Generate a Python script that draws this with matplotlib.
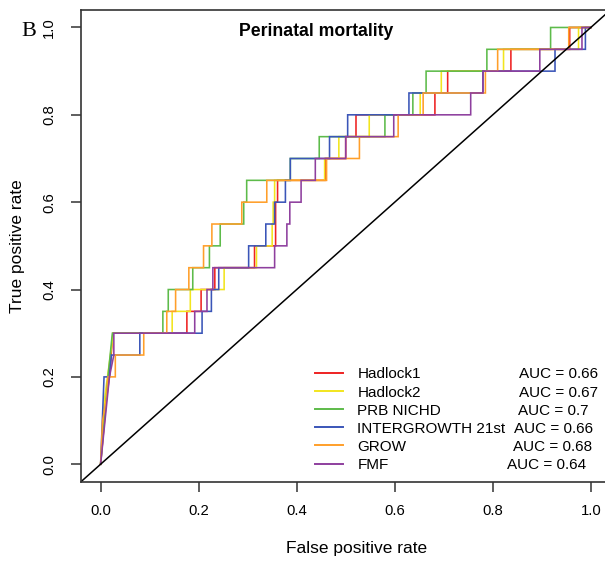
import numpy as np
import matplotlib
matplotlib.use("Agg")
import matplotlib.pyplot as plt

plt.rcParams['font.family'] = ['Liberation Sans', 'DejaVu Sans']

# ROC curves for perinatal mortality, one per growth standard
models = ['Hadlock1', 'Hadlock2', 'PRB NICHD', 'INTERGROWTH 21st', 'GROW', 'FMF']
auc_values = [0.66, 0.67, 0.7, 0.66, 0.68, 0.64]
colors = ['#EE2222', '#F2E51E', '#5DBB4A', '#3A55B8', '#FF9F2A', '#8E3F9E']

# start of each curve, up to a TPR of 0.3
low_fpr = [
    [0, 0.012, 0.018, 0.025],
    [0, 0.008, 0.014, 0.026],
    [0, 0.015, 0.024],
    [0, 0.007, 0.018, 0.022, 0.080, 0.080],
    [0, 0.004, 0.012, 0.015, 0.030, 0.030, 0.088, 0.088],
    [0, 0.018, 0.027, 0.027],
]
low_tpr = [
    [0, 0.15, 0.2, 0.3],
    [0, 0.15, 0.2, 0.3],
    [0, 0.2, 0.3],
    [0, 0.2, 0.2, 0.25, 0.25, 0.3],
    [0, 0.1, 0.15, 0.2, 0.2, 0.25, 0.25, 0.3],
    [0, 0.2, 0.25, 0.3],
]

# FPR at which each curve steps up by 0.05, from TPR 0.3 to 1.0
step_fpr = [
    [0.176, 0.205, 0.233, 0.314, 0.357, 0.357, 0.361, 0.459, 0.500, 0.521, 0.682, 0.708, 0.837, 0.957],
    [0.146, 0.183, 0.252, 0.318, 0.350, 0.352, 0.355, 0.457, 0.486, 0.548, 0.652, 0.695, 0.822, 0.975],
    [0.127, 0.138, 0.188, 0.222, 0.244, 0.292, 0.298, 0.387, 0.446, 0.580, 0.637, 0.664, 0.788, 0.918],
    [0.207, 0.226, 0.241, 0.302, 0.337, 0.355, 0.377, 0.387, 0.467, 0.504, 0.629, 0.780, 0.927, 0.989],
    [0.135, 0.153, 0.180, 0.210, 0.227, 0.288, 0.339, 0.461, 0.528, 0.607, 0.658, 0.785, 0.810, 0.955],
    [0.192, 0.217, 0.229, 0.355, 0.380, 0.386, 0.409, 0.438, 0.500, 0.598, 0.755, 0.780, 0.896, 0.982],
]
step_size = 0.05

# x offsets of the AUC text in the legend
auc_text_x = [0.853, 0.853, 0.851, 0.844, 0.841, 0.830]


def roc_path(fx, fy, steps):
    xs = list(fx)
    ys = list(fy)
    level = fy[-1]
    for s in steps:
        xs += [s, s]
        ys += [level, level + step_size]
        level += step_size
    xs.append(1.0)
    ys.append(level)
    return xs, ys


fig = plt.figure(figsize=(6.05, 5.63), dpi=100)
ax = fig.add_axes([81 / 605, (563 - 481.7) / 563, (610.4 - 81) / 605, (481.7 - 10) / 563])
ax.set_xlim(-0.04, 1.04)
ax.set_ylim(-0.04, 1.04)

for i in range(len(models)):
    xs, ys = roc_path(low_fpr[i], low_tpr[i], step_fpr[i])
    ax.plot(xs, ys, color=colors[i], lw=1.15, solid_joinstyle='miter')

ax.axline((0, 0), (1, 1), color='black', lw=1.1)

# legend drawn by hand so the AUC column sits where it should
for i in range(len(models)):
    y = 0.2096 - 0.0416 * i
    ax.plot([0.438, 0.495], [y, y], color=colors[i], lw=1.4)
    ax.text(0.524, y - 0.013, models[i], fontsize=11, va='baseline', ha='left')
    ax.text(auc_text_x[i], y - 0.013, 'AUC = ' + str(auc_values[i]), fontsize=11, va='baseline', ha='left')

ax.text(0.439, 0.981, 'Perinatal mortality', fontsize=12.7, fontweight='bold', ha='center', va='baseline')

ticks = [0.0, 0.2, 0.4, 0.6, 0.8, 1.0]
ax.set_xticks(ticks)
ax.set_yticks(ticks)
ax.set_xticklabels(['%.1f' % t for t in ticks])
ax.set_yticklabels(['%.1f' % t for t in ticks])
ax.tick_params(axis='both', direction='out', length=7, width=1.1, color='#333333', labelsize=10.7)
ax.tick_params(axis='x', pad=9)
ax.tick_params(axis='y', pad=11, labelrotation=90)
for lbl in ax.get_yticklabels():
    lbl.set_va('center')

for side in ['left', 'bottom', 'top', 'right']:
    ax.spines[side].set_linewidth(1.2)
    ax.spines[side].set_color('#333333')

fig.text(356.7 / 605, 1 - 549 / 563, 'False positive rate', fontsize=12.5, ha='center', va='center')
fig.text(18 / 605, 1 - 245.9 / 563, 'True positive rate', fontsize=12.5, ha='center', va='center', rotation=90)
fig.text(29 / 605, 1 - 31 / 563, 'B', fontsize=16, ha='center', va='center', family='Liberation Serif')

fig.savefig('out.png', dpi=100)
